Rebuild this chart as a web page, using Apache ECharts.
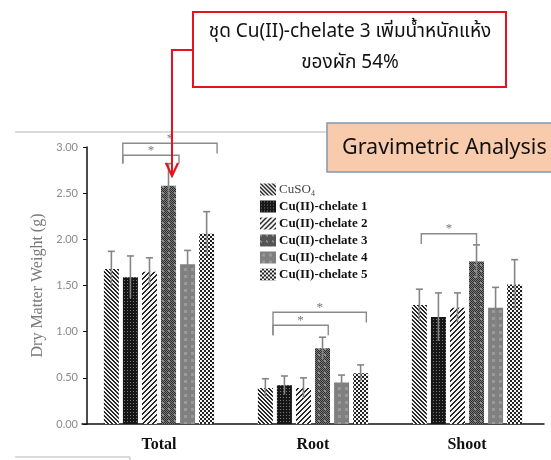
<!DOCTYPE html>
<html>
<head>
<meta charset="utf-8">
<script src="https://cdn.jsdelivr.net/npm/echarts@6/dist/echarts.min.js"></script>
<style>
  html, body { margin: 0; padding: 0; background: #fff; }
  #chart { width: 551px; height: 460px; }
</style>
</head>
<body>
<div id="chart"></div>
<script>
/* Dry matter weight by plant part, patterned bars with SD and significance brackets. */

const categories = ['Total', 'Root', 'Shoot'];
const seriesNames = ['CuSO₄', 'Cu(II)-chelate 1', 'Cu(II)-chelate 2',
  'Cu(II)-chelate 3', 'Cu(II)-chelate 4', 'Cu(II)-chelate 5'];

// means (g) per category: Total, Root, Shoot
const meanCuSO4 = [1.68, 0.39, 1.29];
const meanChelate1 = [1.59, 0.42, 1.16];
const meanChelate2 = [1.65, 0.39, 1.26];
const meanChelate3 = [2.58, 0.82, 1.76];
const meanChelate4 = [1.73, 0.45, 1.26];
const meanChelate5 = [2.06, 0.55, 1.51];

// error (SD) per category
const errCuSO4 = [0.19, 0.10, 0.17];
const errChelate1 = [0.23, 0.10, 0.26];
const errChelate2 = [0.15, 0.11, 0.16];
const errChelate3 = [0.24, 0.12, 0.18];
const errChelate4 = [0.15, 0.08, 0.22];
const errChelate5 = [0.24, 0.09, 0.27];

const yTicks = [0, 0.5, 1, 1.5, 2, 2.5, 3];

// brackets: [category, from bar pos, to bar pos, top, left leg bottom, right leg bottom]
const brackets = [
  [0, 0.6, 5.55, 3.04, 2.82, 2.93],
  [0, 0.6, 3.55, 2.91, 2.82, 2.82],
  [1, 0.4, 5.3, 1.21, 0.96, 1.10],
  [1, 0.4, 3.3, 1.07, 0.96, 0.96],
  [2, 0.1, 3.0, 2.06, 1.95, 1.95],
];

const means = [meanCuSO4, meanChelate1, meanChelate2, meanChelate3, meanChelate4, meanChelate5];
const errs = [errCuSO4, errChelate1, errChelate2, errChelate3, errChelate4, errChelate5];

const BAR_W = 15;
const BAR_GAP = 0.27;
const STEP = BAR_W * (1 + BAR_GAP);
const N = seriesNames.length;

// ---------- fill patterns ----------

function makePattern(size, fn) {
  const c = document.createElement('canvas');
  c.width = c.height = size;
  const ctx = c.getContext('2d');
  for (let y = 0; y < size; y++) {
    for (let x = 0; x < size; x++) {
      ctx.fillStyle = fn(x, y);
      ctx.fillRect(x, y, 1, 1);
    }
  }
  return { image: c, repeat: 'repeat' };
}

const patterns = [
  makePattern(4, (x, y) => ((x - y + 8) % 4 < 2 ? '#262626' : '#f4f4f4')),
  makePattern(3, (x, y) => (x === 1 && y === 1 ? '#7a7a7a' : '#161616')),
  makePattern(5, (x, y) => ((x + y) % 5 < 2 ? '#262626' : '#f4f4f4')),
  makePattern(6, (x, y) => {
    if (x < 2 && y < 2) return '#8e8e8e';
    return (x + y) % 2 === 0 ? '#2c2c2c' : '#7c7c7c';
  }),
  makePattern(7, (x, y) => (x >= 2 && x <= 4 && y >= 2 && y <= 4 ? '#9a9a9a' : '#808080')),
  makePattern(4, (x, y) => (((x >> 1) + (y >> 1)) % 2 ? '#222222' : '#f6f6f6')),
];

// ---------- series ----------

const barSeries = seriesNames.map((name, k) => ({
  name,
  type: 'bar',
  barWidth: BAR_W,
  barGap: (BAR_GAP * 100) + '%',
  data: means[k],
  itemStyle: { color: patterns[k] },
  z: 2,
}));

const errData = [];
means.forEach((m, k) => m.forEach((v, c) => errData.push([c, k, v - errs[k][c], v + errs[k][c]])));

const errSeries = {
  type: 'custom',
  name: 'err',
  data: errData,
  encode: { x: 0, y: [2, 3] },
  z: 5,
  clip: false,
  renderItem(params, api) {
    const off = (api.value(1) - (N - 1) / 2) * STEP;
    const lo = api.coord([api.value(0), api.value(2)]);
    const hi = api.coord([api.value(0), api.value(3)]);
    const x = lo[0] + off;
    const style = { stroke: '#858585', lineWidth: 1.6 };
    return {
      type: 'group',
      children: [
        { type: 'line', shape: { x1: x, y1: lo[1], x2: x, y2: hi[1] }, style },
        { type: 'line', shape: { x1: x - 3.5, y1: hi[1], x2: x + 3.5, y2: hi[1] }, style },
      ],
    };
  },
};

const bracketSeries = {
  type: 'custom',
  name: 'sig',
  data: brackets,
  encode: { x: 0, y: 3 },
  z: 6,
  clip: false,
  renderItem(params, api) {
    const c = api.value(0);
    const base = api.coord([c, 0]);
    const xl = base[0] + (api.value(1) - (N - 1) / 2) * STEP;
    const xr = base[0] + (api.value(2) - (N - 1) / 2) * STEP;
    const top = api.coord([c, api.value(3)])[1];
    const lb = api.coord([c, api.value(4)])[1];
    const rb = api.coord([c, api.value(5)])[1];
    return {
      type: 'group',
      children: [
        {
          type: 'polyline',
          shape: { points: [[xl, lb], [xl, top], [xr, top], [xr, rb]] },
          style: { stroke: '#8a8a8a', lineWidth: 1.4, fill: null },
        },
        {
          type: 'text',
          style: {
            text: '*', x: (xl + xr) / 2, y: top - 5,
            align: 'center', verticalAlign: 'middle',
            font: '13px "Liberation Serif"', fill: '#777',
          },
        },
      ],
    };
  },
};

// ---------- chart ----------

const chart = echarts.init(document.getElementById('chart'), null, { renderer: 'canvas' });

chart.setOption({
  animation: false,
  backgroundColor: '#ffffff',
  grid: { left: 82, right: 7, top: 147, bottom: 36 },
  legend: {
    data: seriesNames,
    orient: 'vertical',
    left: 255,
    top: 178,
    itemWidth: 16,
    itemHeight: 12,
    itemGap: 4,
    icon: 'rect',
    formatter: (name) => (name === seriesNames[0] ? '{n|' + name + '}' : '{b|' + name + '}'),
    textStyle: {
      padding: [0, 0, 0, -2],
      rich: {
        n: { fontFamily: 'Liberation Serif', fontSize: 13, color: '#444' },
        b: { fontFamily: 'Liberation Serif', fontSize: 13, fontWeight: 'bold', color: '#111' },
      },
    },
  },
  xAxis: {
    type: 'category',
    data: categories,
    axisLine: { lineStyle: { color: '#111', width: 1.5 } },
    axisTick: { show: false },
    axisLabel: {
      margin: 13,
      fontFamily: 'Liberation Serif',
      fontSize: 16,
      fontWeight: 'bold',
      color: '#111',
    },
  },
  yAxis: {
    type: 'value',
    min: yTicks[0],
    max: yTicks[yTicks.length - 1],
    interval: 0.5,
    offset: -5,
    name: 'Dry Matter Weight (g)',
    nameLocation: 'middle',
    nameGap: 40,
    nameTextStyle: { fontFamily: 'Liberation Serif', fontSize: 16, color: '#7a7a7a' },
    axisLine: { show: true, lineStyle: { color: '#111', width: 1.5 } },
    axisTick: { show: true, length: 4, lineStyle: { color: '#111' } },
    splitLine: { show: false },
    axisLabel: {
      margin: 9,
      fontFamily: 'Lato',
      fontSize: 11,
      color: '#8a8a8a',
      formatter: (v) => v.toFixed(2),
    },
  },
  series: [...barSeries, errSeries, bracketSeries],
  graphic: [
    { type: 'line', shape: { x1: 15, y1: 132, x2: 327, y2: 132 }, style: { stroke: '#b5b5b5', lineWidth: 1 } },
    { type: 'polyline', shape: { points: [[15, 457], [130, 457], [130, 461]] }, style: { stroke: '#b5b5b5', lineWidth: 1, fill: null } },
    {
      type: 'rect', z: 10,
      shape: { x: 327, y: 123, width: 300, height: 49 },
      style: { fill: '#F8CBAD', stroke: '#8497B0', lineWidth: 1.5 },
    },
    {
      type: 'text', z: 11, x: 342, y: 148,
      style: { text: 'Gravimetric Analysis', font: '21.5px "Noto Sans"', fill: '#111', verticalAlign: 'middle' },
    },
    {
      type: 'rect', z: 10,
      shape: { x: 193, y: 12, width: 313, height: 75 },
      style: { fill: '#ffffff', stroke: '#E5131B', lineWidth: 2 },
    },
    {
      type: 'text', z: 11, x: 350, y: 32,
      style: {
        text: 'ชุด Cu(II)-chelate 3 เพิ่มน้ำหนักแห้ง',
        font: '19px "Noto Sans", "Noto Sans Thai", Tahoma, sans-serif',
        fill: '#111', align: 'center', verticalAlign: 'middle',
      },
    },
    {
      type: 'text', z: 11, x: 350, y: 63,
      style: {
        text: 'ของผัก 54%',
        font: '19px "Noto Sans", "Noto Sans Thai", Tahoma, sans-serif',
        fill: '#111', align: 'center', verticalAlign: 'middle',
      },
    },
    {
      type: 'polyline', z: 20,
      shape: { points: [[193, 50], [172, 50], [172, 175]] },
      style: { stroke: '#E5131B', lineWidth: 2, fill: null },
    },
    {
      type: 'polyline', z: 20,
      shape: { points: [[166, 163], [172, 176], [178, 163]] },
      style: { stroke: '#E5131B', lineWidth: 2.2, fill: null },
    },
  ],
});
</script>
</body>
</html>
